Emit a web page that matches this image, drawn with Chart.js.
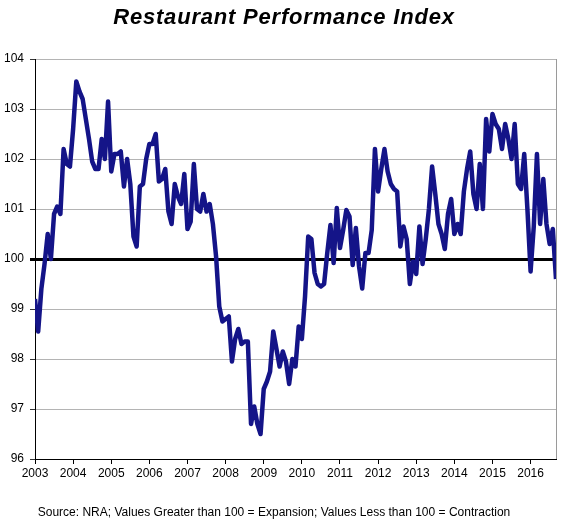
<!DOCTYPE html>
<html>
<head>
<meta charset="utf-8">
<title>Restaurant Performance Index</title>
<script src="https://cdn.jsdelivr.net/npm/chart.js"></script>
<style>
  html, body { margin: 0; padding: 0; background: #fff; }
  #wrap { position: relative; width: 568px; height: 530px; }
  #wrap canvas { position: absolute; left: 0; top: 0; }
  #title {
    position: absolute; top: 4px; left: 0; width: 568px; text-align: center;
    font: italic bold 22px "Liberation Sans", Arial, sans-serif; color: #000;
    letter-spacing: 0.8px;
  }
  #source {
    position: absolute; top: 505px; left: 0; width: 548px; text-align: center;
    font: 12px "Liberation Sans", Arial, sans-serif; color: #000;
  }
</style>
</head>
<body>
<div id="wrap">
  <canvas id="rpiChart" width="568" height="530"></canvas>
  <div id="title">Restaurant Performance Index</div>
  <div id="source">Source: NRA; Values Greater than 100 = Expansion; Values Less than 100 = Contraction</div>
</div>

<script>
// dados mensais, jan a dez de cada ano
const startYear = 2003;
const yearLabels = ['2003', '2004', '2005', '2006', '2007', '2008', '2009',
                    '2010', '2011', '2012', '2013', '2014', '2015', '2016'];
const yTicks = [96, 97, 98, 99, 100, 101, 102, 103, 104];

const rpi2003 = [99.2, 98.55, 99.4, 99.9, 100.5, 100.0, 100.9, 101.05, 100.9, 102.2, 101.9, 101.85];
const rpi2004 = [102.6, 103.55, 103.35, 103.2, 102.8, 102.4, 101.95, 101.8, 101.8, 102.4, 102.0, 103.15];
const rpi2005 = [101.75, 102.1, 102.1, 102.15, 101.45, 102.0, 101.5, 100.45, 100.25, 101.45, 101.5, 102.0];
const rpi2006 = [102.3, 102.3, 102.5, 101.55, 101.6, 101.8, 100.95, 100.7, 101.5, 101.25, 101.1, 101.7];
const rpi2007 = [100.6, 100.75, 101.9, 101.0, 100.95, 101.3, 100.95, 101.1, 100.7, 100.05, 99.05, 98.75];
const rpi2008 = [98.8, 98.85, 97.95, 98.4, 98.6, 98.3, 98.35, 98.35, 96.7, 97.05, 96.7, 96.5];
const rpi2009 = [97.4, 97.55, 97.75, 98.55, 98.2, 97.85, 98.15, 97.95, 97.5, 98.0, 97.85, 98.65];
const rpi2010 = [98.4, 99.25, 100.45, 100.4, 99.72, 99.5, 99.45, 99.5, 100.12, 100.68, 99.92, 101.02];
const rpi2011 = [100.22, 100.58, 100.98, 100.85, 99.88, 100.62, 99.85, 99.41, 100.12, 100.12, 100.58, 102.2];
const rpi2012 = [101.35, 101.8, 102.2, 101.75, 101.5, 101.4, 101.35, 100.25, 100.65, 100.4, 99.5, 99.95];
const rpi2013 = [99.7, 100.65, 99.9, 100.4, 101.0, 101.85, 101.3, 100.7, 100.5, 100.2, 100.9, 101.2];
const rpi2014 = [100.5, 100.7, 100.5, 101.35, 101.8, 102.15, 101.3, 101.0, 101.9, 101.0, 102.8, 102.15];
const rpi2015 = [102.9, 102.7, 102.6, 102.2, 102.7, 102.4, 102.0, 102.7, 101.5, 101.4, 102.1, 101.0];
const rpi2016 = [99.75, 100.65, 102.1, 100.7, 101.6, 100.7, 100.3, 100.6, 99.6];

document.addEventListener('DOMContentLoaded', function() {
    if (typeof Chart === 'undefined') {
        console.error('Chart.js não carregou!');
        return;
    }
    createChart();
});

function createChart() {
    const values = [].concat(rpi2003, rpi2004, rpi2005, rpi2006, rpi2007, rpi2008, rpi2009,
                             rpi2010, rpi2011, rpi2012, rpi2013, rpi2014, rpi2015, rpi2016);
    const points = values.map((v, i) => ({ x: startYear + i / 12, y: v }));
    const lastX = startYear + (values.length - 1) / 12;

    // borda direita cinza da área do gráfico
    const rightBorder = {
        id: 'rightBorder',
        beforeDatasetsDraw(chart) {
            const a = chart.chartArea;
            const ctx = chart.ctx;
            ctx.save();
            ctx.strokeStyle = '#9a9a9a';
            ctx.lineWidth = 1;
            ctx.beginPath();
            ctx.moveTo(Math.round(a.right) + 0.5, a.top);
            ctx.lineTo(Math.round(a.right) + 0.5, a.bottom);
            ctx.stroke();
            ctx.restore();
        }
    };

    new Chart(document.getElementById('rpiChart'), {
        type: 'line',
        data: {
            datasets: [{
                label: 'Restaurant Performance Index',
                data: points,
                borderColor: '#141488',
                borderWidth: 4.5,
                borderJoinStyle: 'round',
                pointRadius: 0,
                tension: 0,
                fill: false
            }]
        },
        options: {
            responsive: false,
            animation: false,
            layout: { padding: { left: 0, top: 59, right: 12, bottom: 46 } },
            plugins: {
                legend: { display: false },
                tooltip: { enabled: false }
            },
            scales: {
                x: {
                    type: 'linear',
                    min: startYear,
                    max: lastX,
                    afterBuildTicks: function(axis) {
                        axis.ticks = yearLabels.map((l, i) => ({ value: startYear + i }));
                    },
                    afterFit: function(axis) { axis.height = 25; },
                    grid: { drawOnChartArea: false, tickLength: 5, color: '#000' },
                    border: { color: '#000', width: 1 },
                    ticks: {
                        autoSkip: false,
                        maxRotation: 0,
                        padding: 2,
                        color: '#000',
                        font: { family: '"Liberation Sans", Arial, sans-serif', size: 12 },
                        callback: function(value) {
                            return yearLabels[Math.round(value) - startYear];
                        }
                    }
                },
                y: {
                    min: yTicks[0],
                    max: yTicks[yTicks.length - 1],
                    afterBuildTicks: function(axis) {
                        axis.ticks = yTicks.map(v => ({ value: v }));
                    },
                    afterFit: function(axis) { axis.width = 35; },
                    grid: {
                        color: ctx => ctx.tick && ctx.tick.value === 100 ? '#000' : '#b4b4b4',
                        lineWidth: ctx => ctx.tick && ctx.tick.value === 100 ? 3 : 1,
                        tickColor: ctx => ctx.tick && ctx.tick.value === 100 ? '#000' : '#333',
                        tickWidth: ctx => ctx.tick && ctx.tick.value === 100 ? 3 : 1,
                        tickLength: 5
                    },
                    border: { color: '#000', width: 1 },
                    ticks: {
                        padding: 6,
                        color: '#000',
                        font: { family: '"Liberation Sans", Arial, sans-serif', size: 12 }
                    }
                }
            }
        },
        plugins: [rightBorder]
    });
}
</script>
</body>
</html>
